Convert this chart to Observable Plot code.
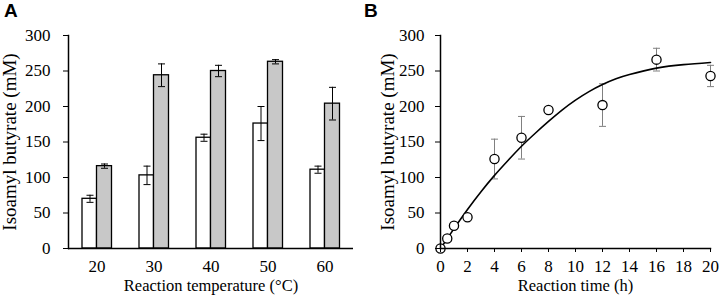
<!DOCTYPE html>
<html>
<head>
<meta charset="utf-8">
<script src="https://cdn.jsdelivr.net/npm/d3@7"></script>
<script src="https://cdn.jsdelivr.net/npm/@observablehq/plot@0.6"></script>
<style>
  html, body { margin: 0; padding: 0; background: #fff; }
  #wrap { display: flex; width: 721px; height: 303px; }
  .panel { position: relative; }
  .tag { position: absolute; left: 4px; top: 0px; font: bold 19px "Liberation Sans", Arial, sans-serif; color: #000; }
  #wrap svg { display: block; font-family: "Liberation Serif", "Times New Roman", serif !important; }
  #wrap svg text { font-family: "Liberation Serif", "Times New Roman", serif !important; }
</style>
</head>
<body>
<div id="wrap">
  <div class="panel" id="pa" style="width:360px"><div class="tag">A</div></div>
  <div class="panel" id="pb" style="width:361px"><div class="tag">B</div></div>
</div>
<script>
// Panel A data
const temps = ["20", "30", "40", "50", "60"];
const whiteVals = [70, 103, 156, 176, 111];
const whiteErr = [5, 13, 5, 24, 5];
const grayVals = [116, 244, 250, 263, 204];
const grayErr = [3, 16, 8, 3, 23];
const yTicks = [0, 50, 100, 150, 200, 250, 300];

// Panel B data
const times = [0, 0.5, 1, 2, 4, 6, 8, 12, 16, 20];
const obsVals = [0, 14, 32, 44, 126, 156, 195, 202, 266, 243];
const obsErr = [0, 0, 0, 0, 28, 30, 4, 30, 16, 15];
const fitTimes = [0, 1, 2, 3, 4, 5, 6, 7, 8, 9, 10, 11, 12, 13, 14, 16, 18, 20];
const fitVals = [0, 28, 55, 80, 103, 124, 144, 162, 179, 195, 209, 221, 231, 239, 245, 254, 259, 262];
const timeTicks = [0, 2, 4, 6, 8, 10, 12, 14, 16, 18, 20];

const FONT = '"Liberation Serif", "Times New Roman", serif';
const capSymbol = { draw(ctx) { ctx.moveTo(-3.5, 0); ctx.lineTo(3.5, 0); } };

const white = temps.map((t, i) => ({t, v: whiteVals[i], lo: whiteVals[i] - whiteErr[i], hi: whiteVals[i] + whiteErr[i]}));
const gray = temps.map((t, i) => ({t, v: grayVals[i], lo: grayVals[i] - grayErr[i], hi: grayVals[i] + grayErr[i]}));

const chartA = Plot.plot({
  width: 360, height: 303,
  marginLeft: 68, marginRight: 7, marginTop: 35, marginBottom: 55,
  style: {fontFamily: FONT, fontSize: "17px", color: "#000", background: "#fff"},
  x: {type: "band", domain: temps, padding: 0, label: null},
  y: {domain: [0, 300], label: null},
  marks: [
    Plot.barY(white, {x: "t", y: "v", fill: "#fff", stroke: "#000", strokeWidth: 1.3, insetLeft: 14, insetRight: 28.5}),
    Plot.barY(gray, {x: "t", y: "v", fill: "#c8c8c8", stroke: "#000", strokeWidth: 1.3, insetLeft: 28.5, insetRight: 13.5}),
    Plot.ruleX(white, {x: "t", y1: "lo", y2: "hi", dx: -7, stroke: "#000", strokeWidth: 1}),
    Plot.ruleX(gray, {x: "t", y1: "lo", y2: "hi", dx: 7.5, stroke: "#000", strokeWidth: 1}),
    Plot.dot(white, {x: "t", y: "lo", dx: -7, symbol: capSymbol, stroke: "#000", strokeWidth: 1, fill: "none"}),
    Plot.dot(white, {x: "t", y: "hi", dx: -7, symbol: capSymbol, stroke: "#000", strokeWidth: 1, fill: "none"}),
    Plot.dot(gray, {x: "t", y: "lo", dx: 7.5, symbol: capSymbol, stroke: "#000", strokeWidth: 1, fill: "none"}),
    Plot.dot(gray, {x: "t", y: "hi", dx: 7.5, symbol: capSymbol, stroke: "#000", strokeWidth: 1, fill: "none"}),
    Plot.axisY({ticks: yTicks, tickSize: 5, tickPadding: 13, label: null, fontFamily: FONT, fontSize: 17}),
    Plot.axisX({tickSize: 0, tickPadding: 11, label: null, fontFamily: FONT, fontSize: 17}),
    Plot.frame({anchor: "left", stroke: "#000", strokeWidth: 1.5}),
    Plot.ruleY([0], {stroke: "#000", strokeWidth: 1.5}),
    Plot.text(["Reaction temperature (°C)"], {frameAnchor: "bottom", textAnchor: "middle", dy: 42, fontSize: 16.5, fontFamily: FONT}),
    Plot.text(["Isoamyl butyrate (mM)"], {frameAnchor: "left", textAnchor: "middle", dx: -59, rotate: -90, fontSize: 19, fontFamily: FONT})
  ]
});
document.getElementById("pa").appendChild(chartA);

const obs = times.map((t, i) => ({t, v: obsVals[i], lo: obsVals[i] - obsErr[i], hi: obsVals[i] + obsErr[i], e: obsErr[i]}));
const obsE = obs.filter(d => d.e > 0);
const fit = fitTimes.map((t, i) => ({t, v: fitVals[i]}));

const chartB = Plot.plot({
  width: 361, height: 303,
  marginLeft: 80, marginRight: 11, marginTop: 35, marginBottom: 55,
  style: {fontFamily: FONT, fontSize: "17px", color: "#000", background: "#fff", overflow: "visible"},
  x: {domain: [0, 20], label: null},
  y: {domain: [0, 300], label: null},
  marks: [
    Plot.ruleX(obsE, {x: "t", y1: "lo", y2: "hi", stroke: "#808080", strokeWidth: 1}),
    Plot.dot(obsE, {x: "t", y: "lo", symbol: capSymbol, stroke: "#808080", strokeWidth: 1, fill: "none"}),
    Plot.dot(obsE, {x: "t", y: "hi", symbol: capSymbol, stroke: "#808080", strokeWidth: 1, fill: "none"}),
    Plot.line(fit, {x: "t", y: "v", curve: "natural", stroke: "#000", strokeWidth: 1.6}),
    Plot.dot(obs, {x: "t", y: "v", r: 4.6, fill: "#fff", stroke: "#000", strokeWidth: 1.3}),
    Plot.axisY({ticks: yTicks, tickSize: 5, tickPadding: 11, label: null, fontFamily: FONT, fontSize: 17}),
    Plot.axisX({ticks: timeTicks, tickSize: 4, tickPadding: 7, label: null, fontFamily: FONT, fontSize: 17}),
    Plot.frame({anchor: "left", stroke: "#000", strokeWidth: 1.5}),
    Plot.frame({anchor: "bottom", stroke: "#000", strokeWidth: 1.5}),
    Plot.text(["Reaction time (h)"], {frameAnchor: "bottom", textAnchor: "middle", dy: 42, fontSize: 16.5, fontFamily: FONT}),
    Plot.text(["Isoamyl butyrate (mM)"], {frameAnchor: "left", textAnchor: "middle", dx: -53, rotate: -90, fontSize: 19, fontFamily: FONT})
  ]
});
document.getElementById("pb").appendChild(chartB);
</script>
</body>
</html>
